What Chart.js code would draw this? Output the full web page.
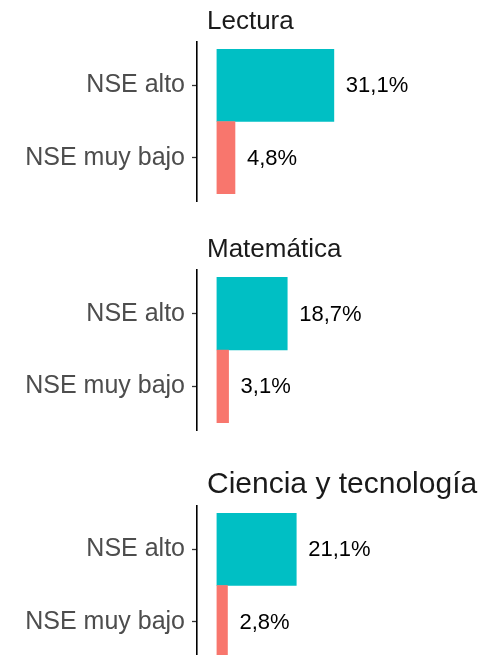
<!DOCTYPE html>
<html>
<head>
<meta charset="utf-8">
<script src="https://cdn.jsdelivr.net/npm/chart.js@4.4.1/dist/chart.umd.min.js"></script>
<style>
  html, body { margin: 0; padding: 0; background: #fff; }
  body { width: 482px; height: 655px; overflow: hidden; position: relative; }
  .panel { position: absolute; left: 0; width: 482px; }
</style>
</head>
<body>
<div class="panel" style="top:0;height:215px"><canvas id="c0"></canvas></div>
<div class="panel" style="top:215px;height:230px"><canvas id="c1"></canvas></div>
<div class="panel" style="top:445px;height:230px"><canvas id="c2"></canvas></div>
<script>
// data
const subjects = ['Lectura', 'Matemática', 'Ciencia y tecnología'];
const categories = ['NSE alto', 'NSE muy bajo'];
const lectura = [31.1, 4.8];
const matematica = [18.7, 3.1];
const ciencia = [21.1, 2.8];
const barColors = ['#00BFC4', '#F8766D'];

const FONT = '"Liberation Sans", Arial, sans-serif';

function fmt(v) {
  return v.toFixed(1).replace('.', ',') + '%';
}

// numbers at the end of each bar
const valueLabels = {
  id: 'valueLabels',
  afterDatasetsDraw(chart) {
    const ctx = chart.ctx;
    const meta = chart.getDatasetMeta(0);
    const values = chart.data.datasets[0].data;
    ctx.save();
    ctx.font = '22px ' + FONT;
    ctx.fillStyle = '#000';
    ctx.textBaseline = 'middle';
    meta.data.forEach((bar, i) => {
      ctx.fillText(fmt(values[i].x), bar.x + 12, bar.y + 1);
    });
    ctx.restore();
  }
};

function panelTitle(text, size) {
  return {
    id: 'panelTitle',
    afterDraw(chart) {
      const ctx = chart.ctx;
      ctx.save();
      ctx.font = size + 'px ' + FONT;
      ctx.fillStyle = '#1a1a1a';
      ctx.textBaseline = 'alphabetic';
      ctx.fillText(text, chart.chartArea.left + 10, chart.chartArea.top - 13);
      ctx.restore();
    }
  };
}

function makePanel(id, title, titleSize, values, padTop, padBottom) {
  new Chart(document.getElementById(id), {
    type: 'bar',
    data: {
      datasets: [{
        data: values.map((v, i) => ({ x: v, y: i })),
        backgroundColor: barColors,
        borderWidth: 0,
        barPercentage: 1,
        categoryPercentage: 1
      }]
    },
    options: {
      indexAxis: 'y',
      responsive: true,
      maintainAspectRatio: false,
      animation: false,
      layout: { padding: { top: padTop, bottom: padBottom, left: 0, right: 0 } },
      plugins: {
        legend: { display: false },
        tooltip: { enabled: false }
      },
      scales: {
        x: {
          type: 'linear',
          display: false,
          min: -5.3,
          max: 70.5
        },
        y: {
          type: 'linear',
          reverse: true,
          offset: false,
          min: -0.6,
          max: 1.6,
          afterFit: (scale) => {
            scale.width = 197;
            scale.paddingTop = 0;
            scale.paddingBottom = 0;
          },
          afterBuildTicks: (scale) => {
            scale.ticks = categories.map((c, i) => ({ value: i }));
          },
          border: { display: true, color: '#000', width: 1.6 },
          grid: {
            display: true,
            offset: false,
            drawOnChartArea: false,
            drawTicks: true,
            tickLength: 5,
            tickColor: '#333',
            tickWidth: 1.3
          },
          ticks: {
            padding: 7,
            color: '#4d4d4d',
            font: { family: FONT, size: 25 },
            callback: (v) => categories[v]
          }
        }
      }
    },
    plugins: [valueLabels, panelTitle(title, titleSize)]
  });
}

makePanel('c0', subjects[0], 26, lectura, 42, 14);
makePanel('c1', subjects[1], 26, matematica, 55, 15);
makePanel('c2', subjects[2], 30, ciencia, 61, 10);
</script>
</body>
</html>
